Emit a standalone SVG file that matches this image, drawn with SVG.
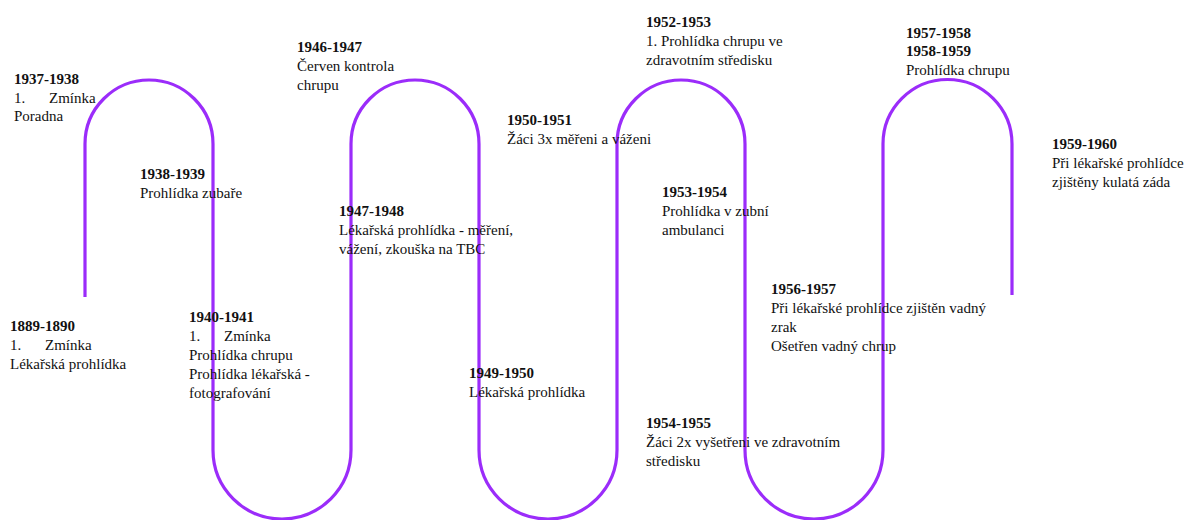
<svg xmlns="http://www.w3.org/2000/svg" width="1189" height="520" viewBox="0 0 1189 520">
<style>
text{font-family:'Liberation Serif','Tinos','DejaVu Serif',serif;font-size:15px;fill:#111}
.y{font-weight:bold}
.line{fill:none;stroke:#9b2cfa;stroke-width:3.2}
</style>
<rect width="1189" height="520" fill="#fff"/>
<g id="connectors">
<path class="line" d="M85,297 L85,144 A64,64 0 0 1 213,144 L213,450 A69,69 0 0 0 351,450 L351,144 A64,64 0 0 1 479,144 L479,450 A69,69 0 0 0 617,450 L617,144 A64,64 0 0 1 745,144 L745,450 A69,69 0 0 0 883,450 L883,144 A64.5,64.5 0 0 1 1012,144 L1012,295"/>
</g>
<g id="n1889">
<text x="10" y="331" class="y">1889-1890</text>
<text y="350"><tspan x="10">1.</tspan><tspan x="45">Zmínka</tspan></text>
<text x="10" y="369">Lékařská prohlídka</text>
</g>
<g id="n1937">
<text x="14" y="84" class="y">1937-1938</text>
<text y="103"><tspan x="14">1.</tspan><tspan x="49">Zmínka</tspan></text>
<text x="14" y="121">Poradna</text>
</g>
<g id="n1938">
<text x="140" y="179" class="y">1938-1939</text>
<text x="140" y="198">Prohlídka zubaře</text>
</g>
<g id="n1940">
<text x="189" y="322" class="y">1940-1941</text>
<text y="341"><tspan x="189">1.</tspan><tspan x="224">Zmínka</tspan></text>
<text x="189" y="360">Prohlídka chrupu</text>
<text x="189" y="379">Prohlídka lékařská -</text>
<text x="189" y="398">fotografování</text>
</g>
<g id="n1946">
<text x="297" y="52" class="y">1946-1947</text>
<text x="297" y="71">Červen kontrola</text>
<text x="297" y="90">chrupu</text>
</g>
<g id="n1947">
<text x="339" y="216" class="y">1947-1948</text>
<text x="339" y="235">Lékařská prohlídka - měření,</text>
<text x="339" y="254">vážení, zkouška na TBC</text>
</g>
<g id="n1949">
<text x="469" y="378" class="y">1949-1950</text>
<text x="469" y="397">Lékařská prohlídka</text>
</g>
<g id="n1950">
<text x="507" y="125" class="y">1950-1951</text>
<text x="507" y="144">Žáci 3x měřeni a váženi</text>
</g>
<g id="n1952">
<text x="646" y="27" class="y">1952-1953</text>
<text x="646" y="46">1. Prohlídka chrupu ve</text>
<text x="646" y="65">zdravotním středisku</text>
</g>
<g id="n1953">
<text x="662" y="197" class="y">1953-1954</text>
<text x="662" y="216">Prohlídka v zubní</text>
<text x="662" y="235">ambulanci</text>
</g>
<g id="n1954">
<text x="646" y="428" class="y">1954-1955</text>
<text x="646" y="447">Žáci 2x vyšetřeni ve zdravotním</text>
<text x="646" y="466">středisku</text>
</g>
<g id="n1956">
<text x="771" y="294" class="y">1956-1957</text>
<text x="771" y="313">Při lékařské prohlídce zjištěn vadný</text>
<text x="771" y="332">zrak</text>
<text x="771" y="351">Ošetřen vadný chrup</text>
</g>
<g id="n1957">
<text x="906" y="38" class="y">1957-1958</text>
<text x="906" y="56" class="y">1958-1959</text>
<text x="906" y="75">Prohlídka chrupu</text>
</g>
<g id="n1959">
<text x="1052" y="149" class="y">1959-1960</text>
<text x="1052" y="168">Při lékařské prohlídce</text>
<text x="1052" y="187">zjištěny kulatá záda</text>
</g>
</svg>
